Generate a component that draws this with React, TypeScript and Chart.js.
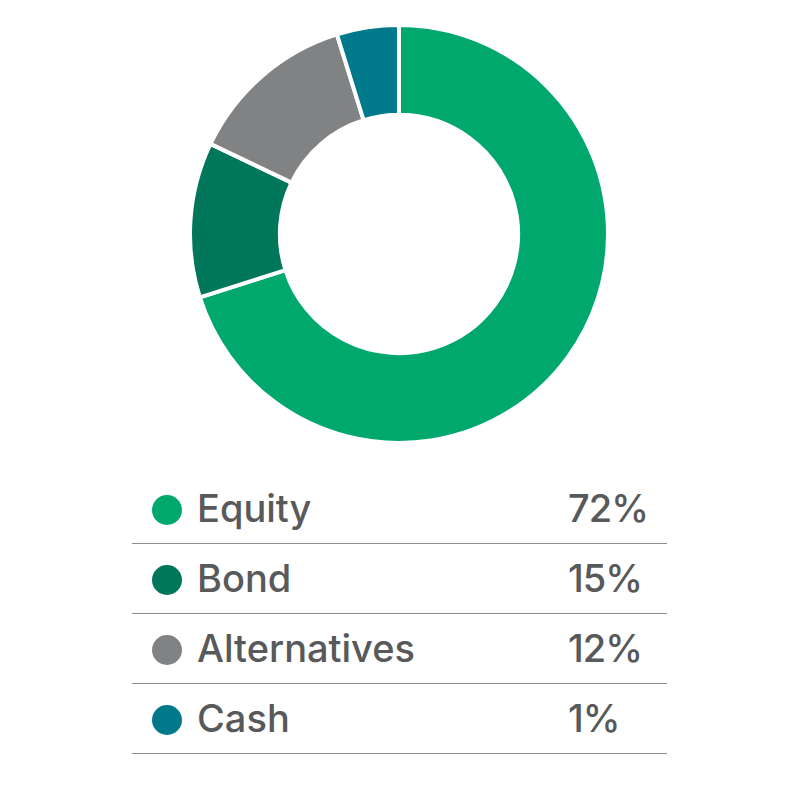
import React, { useEffect, useRef } from 'react';
import { Chart, registerables } from 'chart.js';

Chart.register(...registerables);

// categories and the shares shown in the table
const labels = ['Equity', 'Bond', 'Alternatives', 'Cash'];
const shownPercent = ['72%', '15%', '12%', '1%'];
// slice sizes as drawn in the ring
const sliceValues = [70.1, 12.0, 13.1, 4.8];
const colors = ['#00A86E', '#00775B', '#818284', '#007A8B'];

const FONT = 'Inter, "Noto Sans", sans-serif';

const App: React.FC = () => {
    const canvasRef = useRef<HTMLCanvasElement | null>(null);
    const chartRef = useRef<Chart | null>(null);

    useEffect(() => {
        if (!canvasRef.current) return;
        const ctx = canvasRef.current.getContext('2d');
        if (!ctx) return;

        if (chartRef.current) {
            chartRef.current.destroy();
        }

        chartRef.current = new Chart(ctx, {
            type: 'doughnut',
            data: {
                labels: labels,
                datasets: [
                    {
                        data: sliceValues,
                        backgroundColor: colors,
                        borderColor: '#ffffff',
                        borderWidth: 4,
                        hoverOffset: 0,
                    },
                ],
            },
            options: {
                responsive: true,
                maintainAspectRatio: false,
                animation: false,
                cutout: '57%',
                layout: { padding: 0 },
                plugins: {
                    legend: { display: false },
                    tooltip: { enabled: false },
                },
            },
        });

        return () => {
            if (chartRef.current) {
                chartRef.current.destroy();
                chartRef.current = null;
            }
        };
    }, []);

    return (
        <div style={{ position: 'fixed', left: 0, top: 0, width: 800, height: 800, background: '#fff' }}>
            <div style={{ position: 'absolute', left: 188, top: 23, width: 422, height: 422 }}>
                <canvas ref={canvasRef}></canvas>
            </div>
            {labels.map((label, i) => (
                <div
                    key={label}
                    style={{
                        position: 'absolute',
                        left: 132,
                        top: 474 + i * 70,
                        width: 535,
                        height: 69,
                        borderBottom: '1px solid #8f8f8a',
                        fontFamily: FONT,
                        fontWeight: 500,
                        fontSize: 38,
                        color: '#58595B',
                    }}
                >
                    <span
                        style={{
                            position: 'absolute',
                            left: 20,
                            top: 21,
                            width: 30,
                            height: 30,
                            borderRadius: '50%',
                            background: colors[i],
                        }}
                    />
                    <span style={{ position: 'absolute', left: 65, top: 11, lineHeight: '46px' }}>{label}</span>
                    <span style={{ position: 'absolute', left: 436, top: 11, lineHeight: '46px', letterSpacing: -1 }}>
                        {shownPercent[i]}
                    </span>
                </div>
            ))}
        </div>
    );
};

export default App;
